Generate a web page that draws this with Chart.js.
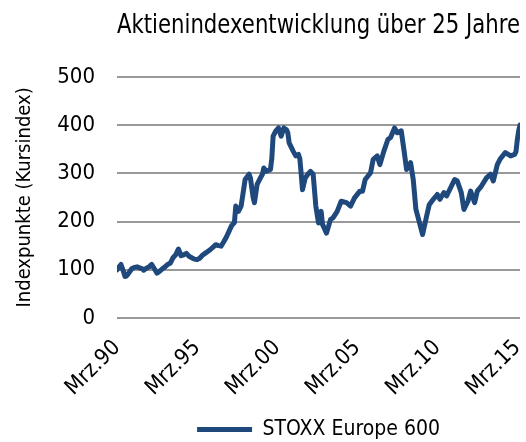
<!DOCTYPE html>
<html>
<head>
<meta charset="utf-8">
<script src="https://cdn.jsdelivr.net/npm/chart.js@4/dist/chart.umd.min.js"></script>
<style>
html,body{margin:0;padding:0;background:#fff;}
#wrap{width:526px;height:442px;}
</style>
</head>
<body>
<div id="wrap"><canvas id="c" width="526" height="442"></canvas></div>
<script>
// Months since March 1990 at which the index was read
const monthOffsets = [0,1,3,5,6,7,8,10,11,13,15,17,19,20,22,24,26,28,30,32,34,36,38,40,42,44,46,48,50,52,54,56,58,60,62,64,66,68,70,72,74,76,78,80,82,84,86,88,89,91,93,94,96,99,100,102,103,105,107,109,110,112,115,116,117,119,121,123,125,127,128,129,132,134,136,137,138,139,141,143,145,147,149,151,153,154,157,160,162,165,168,172,175,178,182,184,186,190,192,195,197,200,203,205,208,210,213,215,217,220,222,224,227,229,232,234,237,240,242,245,247,250,253,255,258,260,263,265,268,270,273,277,280,282,285,287,291,295,298,299,300,301,302];
// STOXX Europe 600 index points
const stoxxValues = [100,104,111,95,86,87,90,98,102,105,106,104,102,99,103,106,111,102,93,97,102,106,111,114,125,131,143,129,131,134,128,125,122,121,124,130,134,138,142,147,152,150,149,158,168,180,192,198,232,221,232,250,287,298,290,250,239,277,288,298,311,304,308,330,377,388,394,377,394,390,384,363,346,336,339,330,300,266,290,298,304,298,232,197,221,194,176,204,208,221,242,239,232,249,263,263,287,301,329,336,318,346,370,374,394,384,388,349,308,322,287,225,194,173,211,235,246,256,246,260,253,270,287,284,260,225,242,263,239,263,273,291,298,284,318,329,343,336,339,345,370,388,400];
const tickMonths = [0,60,120,180,240,300];
const tickLabels = ["Mrz.90","Mrz.95","Mrz.00","Mrz.05","Mrz.10","Mrz.15"];
const yTicks = [0,100,200,300,400,500];
const seriesName = "STOXX Europe 600";
const chartTitle = "Aktienindexentwicklung über 25 Jahre";
const yAxisTitle = "Indexpunkte (Kursindex)";

const FONT = "'DejaVu Sans Condensed','DejaVu Sans',sans-serif";
const LINE = "#1F497D";

const points = monthOffsets.map((m,i)=>({x:m,y:stoxxValues[i]}));

new Chart(document.getElementById('c'), {
  type: 'line',
  data: { datasets: [{
    label: seriesName,
    data: points,
    borderColor: LINE,
    backgroundColor: LINE,
    borderWidth: 5,
    pointRadius: 0,
    tension: 0,
    borderJoinStyle: 'round',
    borderCapStyle: 'round',
    fill: false
  }]},
  options: {
    responsive: false,
    animation: false,
    devicePixelRatio: 1,
    layout: { padding: { left: 0, right: 6, top: 0, bottom: -8 } },
    plugins: {
      title: {
        display: true, text: chartTitle, fullSize: false,
        color: '#000', font: { family: FONT, size: 26.5, weight: 'normal' },
        padding: { top: 10, bottom: 35 }
      },
      legend: {
        position: 'bottom',
        fullSize: false,
        labels: {
          color: '#000', font: { family: FONT, size: 21 },
          boxWidth: 55, boxHeight: 5, padding: 0,
          generateLabels(chart) {
            return Chart.defaults.plugins.legend.labels.generateLabels(chart).map(l => ({...l, lineWidth: 0, fillStyle: LINE}));
          }
        }
      },
      tooltip: { enabled: false }
    },
    scales: {
      x: {
        type: 'linear', min: 0, max: 302,
        afterBuildTicks(s) { s.ticks = tickMonths.map(v => ({value: v})); },
        ticks: {
          color: '#000', font: { family: FONT, size: 22 },
          minRotation: 45, maxRotation: 45, padding: 17,
          callback(v) { const i = tickMonths.indexOf(v); return i >= 0 ? tickLabels[i] : ''; }
        },
        grid: { display: false, drawTicks: false },
        border: { display: false },
        afterFit(s) { s.height = 101; s.paddingRight = 0; s.paddingLeft = 0; }
      },
      y: {
        min: 0, max: 500,
        afterBuildTicks(s) { s.ticks = yTicks.map(v => ({value: v})); },
        ticks: { color: '#000', font: { family: FONT, size: 22 }, padding: 22 },
        grid: { color: '#999999', lineWidth: 2, drawTicks: false },
        border: { display: false },
        title: { display: true, text: yAxisTitle, color: '#000', font: { family: FONT, size: 20 }, padding: { top: 13, bottom: 0 } },
        afterFit(s) { s.width = 117; }
      }
    }
  }
});
</script>
</body>
</html>
